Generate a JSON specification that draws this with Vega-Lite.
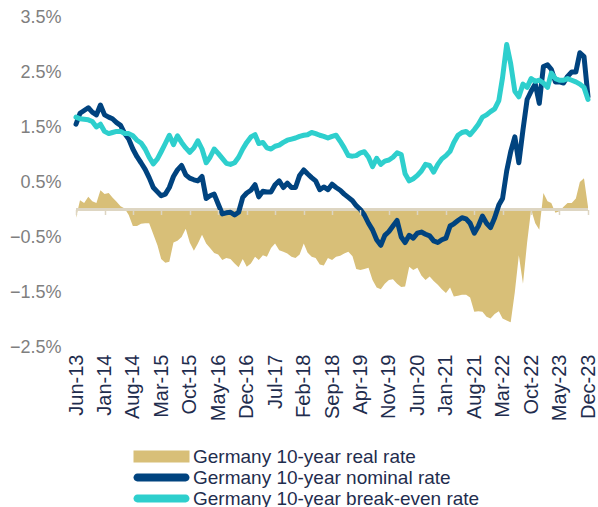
{
"$schema": "https://vega.github.io/schema/vega-lite/v6.json",
"width": 512, "height": 330,
"autosize": {"type": "none"},
"padding": {"left": 76, "top": 17, "right": 10, "bottom": 160},
"background": "white",
"config": {"view": {"stroke": null}, "font": "Liberation Sans",
"legend": {"labelFont": "Liberation Sans", "labelFontSize": 19, "labelColor": "#1F2D4E", "labelLimit": 400,
"symbolType": {"expr": "datum.value === 'Germany 10-year real rate' ? 'M-9.4,-1.2H1.8V1.2H-9.4Z' : 'M-8.62,-0.78H1.02A0.78,0.78 0 0 1 1.02,0.78H-8.62A0.78,0.78 0 0 1 -8.62,-0.78Z'"},
"symbolStrokeWidth": 0, "symbolOpacity": 1}},
"data": {"values": [
{"d":"2013-06-15","r":-0.15,"n":1.55,"b":1.68},
{"d":"2013-07-15","r":0.17,"n":1.75,"b":1.65},
{"d":"2013-08-15","r":0.12,"n":1.80,"b":1.64},
{"d":"2013-09-15","r":0.23,"n":1.85,"b":1.63},
{"d":"2013-10-15","r":0.15,"n":1.77,"b":1.60},
{"d":"2013-11-15","r":0.12,"n":1.72,"b":1.50},
{"d":"2013-12-15","r":0.35,"n":1.90,"b":1.55},
{"d":"2014-01-15","r":0.28,"n":1.72,"b":1.42},
{"d":"2014-02-15","r":0.30,"n":1.68,"b":1.38},
{"d":"2014-03-15","r":0.22,"n":1.65,"b":1.40},
{"d":"2014-04-15","r":0.14,"n":1.58,"b":1.42},
{"d":"2014-05-15","r":0.06,"n":1.53,"b":1.42},
{"d":"2014-06-15","r":0.02,"n":1.38,"b":1.38},
{"d":"2014-07-15","r":-0.10,"n":1.28,"b":1.38},
{"d":"2014-08-15","r":-0.30,"n":1.10,"b":1.34},
{"d":"2014-09-15","r":-0.30,"n":0.96,"b":1.26},
{"d":"2014-10-15","r":-0.26,"n":0.85,"b":1.21},
{"d":"2014-11-15","r":-0.25,"n":0.73,"b":1.10},
{"d":"2014-12-15","r":-0.25,"n":0.58,"b":0.95},
{"d":"2015-01-15","r":-0.45,"n":0.40,"b":0.83},
{"d":"2015-02-15","r":-0.65,"n":0.32,"b":0.92},
{"d":"2015-03-15","r":-0.90,"n":0.25,"b":1.05},
{"d":"2015-04-15","r":-0.97,"n":0.28,"b":1.20},
{"d":"2015-05-15","r":-0.95,"n":0.40,"b":1.35},
{"d":"2015-06-15","r":-0.60,"n":0.60,"b":1.18},
{"d":"2015-07-15","r":-0.57,"n":0.72,"b":1.34},
{"d":"2015-08-15","r":-0.50,"n":0.80,"b":1.22},
{"d":"2015-09-15","r":-0.35,"n":0.63,"b":1.12},
{"d":"2015-10-15","r":-0.60,"n":0.57,"b":1.04},
{"d":"2015-11-15","r":-0.75,"n":0.54,"b":1.12},
{"d":"2015-12-15","r":-0.62,"n":0.52,"b":1.25},
{"d":"2016-01-15","r":-0.46,"n":0.60,"b":1.10},
{"d":"2016-02-15","r":-0.62,"n":0.20,"b":0.85},
{"d":"2016-03-15","r":-0.70,"n":0.25,"b":0.95},
{"d":"2016-04-15","r":-0.79,"n":0.28,"b":1.10},
{"d":"2016-05-15","r":-0.82,"n":0.10,"b":1.02},
{"d":"2016-06-15","r":-0.92,"n":-0.08,"b":0.93},
{"d":"2016-07-15","r":-0.88,"n":-0.06,"b":0.84},
{"d":"2016-08-15","r":-0.90,"n":-0.05,"b":0.82},
{"d":"2016-09-15","r":-0.98,"n":-0.10,"b":0.85},
{"d":"2016-10-15","r":-1.05,"n":-0.05,"b":0.95},
{"d":"2016-11-15","r":-0.90,"n":0.22,"b":1.10},
{"d":"2016-12-15","r":-1.04,"n":0.30,"b":1.22},
{"d":"2017-01-15","r":-0.98,"n":0.35,"b":1.32},
{"d":"2017-02-15","r":-0.86,"n":0.45,"b":1.36},
{"d":"2017-03-15","r":-0.92,"n":0.23,"b":1.20},
{"d":"2017-04-15","r":-0.83,"n":0.33,"b":1.22},
{"d":"2017-05-15","r":-0.86,"n":0.32,"b":1.12},
{"d":"2017-06-15","r":-0.70,"n":0.32,"b":1.10},
{"d":"2017-07-15","r":-0.62,"n":0.45,"b":1.15},
{"d":"2017-08-15","r":-0.74,"n":0.52,"b":1.17},
{"d":"2017-09-15","r":-0.77,"n":0.40,"b":1.22},
{"d":"2017-10-15","r":-0.80,"n":0.48,"b":1.26},
{"d":"2017-11-15","r":-0.86,"n":0.40,"b":1.28},
{"d":"2017-12-15","r":-0.88,"n":0.40,"b":1.30},
{"d":"2018-01-15","r":-0.82,"n":0.62,"b":1.33},
{"d":"2018-02-15","r":-0.62,"n":0.72,"b":1.35},
{"d":"2018-03-15","r":-0.78,"n":0.65,"b":1.36},
{"d":"2018-04-15","r":-0.86,"n":0.58,"b":1.40},
{"d":"2018-05-15","r":-0.88,"n":0.52,"b":1.38},
{"d":"2018-06-15","r":-1.00,"n":0.36,"b":1.35},
{"d":"2018-07-15","r":-1.02,"n":0.41,"b":1.33},
{"d":"2018-08-15","r":-0.88,"n":0.36,"b":1.30},
{"d":"2018-09-15","r":-0.92,"n":0.46,"b":1.33},
{"d":"2018-10-15","r":-0.86,"n":0.40,"b":1.35},
{"d":"2018-11-15","r":-0.84,"n":0.35,"b":1.24},
{"d":"2018-12-15","r":-0.80,"n":0.28,"b":1.12},
{"d":"2019-01-15","r":-0.77,"n":0.22,"b":0.98},
{"d":"2019-02-15","r":-0.85,"n":0.16,"b":0.97},
{"d":"2019-03-15","r":-1.08,"n":0.07,"b":0.98},
{"d":"2019-04-15","r":-1.10,"n":0.00,"b":1.03},
{"d":"2019-05-15","r":-1.08,"n":-0.10,"b":1.05},
{"d":"2019-06-15","r":-1.06,"n":-0.25,"b":0.95},
{"d":"2019-07-15","r":-1.28,"n":-0.37,"b":0.78},
{"d":"2019-08-15","r":-1.42,"n":-0.55,"b":0.93},
{"d":"2019-09-15","r":-1.45,"n":-0.65,"b":0.82},
{"d":"2019-10-15","r":-1.35,"n":-0.47,"b":0.88},
{"d":"2019-11-15","r":-1.28,"n":-0.40,"b":0.90},
{"d":"2019-12-15","r":-1.27,"n":-0.30,"b":0.95},
{"d":"2020-01-15","r":-1.35,"n":-0.20,"b":1.03},
{"d":"2020-02-15","r":-1.41,"n":-0.50,"b":1.00},
{"d":"2020-03-15","r":-1.40,"n":-0.60,"b":0.65},
{"d":"2020-04-15","r":-1.04,"n":-0.47,"b":0.52},
{"d":"2020-05-15","r":-1.10,"n":-0.52,"b":0.56},
{"d":"2020-06-15","r":-1.06,"n":-0.43,"b":0.62},
{"d":"2020-07-15","r":-1.20,"n":-0.41,"b":0.70},
{"d":"2020-08-15","r":-1.28,"n":-0.45,"b":0.82},
{"d":"2020-09-15","r":-1.22,"n":-0.48,"b":0.80},
{"d":"2020-10-15","r":-1.30,"n":-0.57,"b":0.68},
{"d":"2020-11-15","r":-1.37,"n":-0.60,"b":0.82},
{"d":"2020-12-15","r":-1.45,"n":-0.55,"b":0.92},
{"d":"2021-01-15","r":-1.52,"n":-0.52,"b":0.98},
{"d":"2021-02-15","r":-1.42,"n":-0.30,"b":1.06},
{"d":"2021-03-15","r":-1.58,"n":-0.26,"b":1.22},
{"d":"2021-04-15","r":-1.57,"n":-0.20,"b":1.35},
{"d":"2021-05-15","r":-1.55,"n":-0.15,"b":1.40},
{"d":"2021-06-15","r":-1.55,"n":-0.17,"b":1.42},
{"d":"2021-07-15","r":-1.60,"n":-0.25,"b":1.36},
{"d":"2021-08-15","r":-1.86,"n":-0.43,"b":1.45},
{"d":"2021-09-15","r":-1.85,"n":-0.30,"b":1.55},
{"d":"2021-10-15","r":-1.86,"n":-0.12,"b":1.68},
{"d":"2021-11-15","r":-1.95,"n":-0.25,"b":1.72},
{"d":"2021-12-15","r":-1.98,"n":-0.33,"b":1.78},
{"d":"2022-01-15","r":-1.90,"n":-0.15,"b":1.83},
{"d":"2022-02-15","r":-1.85,"n":0.08,"b":1.98},
{"d":"2022-03-15","r":-1.98,"n":0.20,"b":2.40},
{"d":"2022-04-15","r":-2.02,"n":0.70,"b":3.00},
{"d":"2022-05-15","r":-2.05,"n":1.05,"b":2.65},
{"d":"2022-06-15","r":-1.50,"n":1.32,"b":2.15},
{"d":"2022-07-15","r":-0.83,"n":0.85,"b":2.05},
{"d":"2022-08-15","r":-1.35,"n":1.45,"b":2.28},
{"d":"2022-09-15","r":-0.60,"n":2.00,"b":2.22},
{"d":"2022-10-15","r":0.00,"n":2.15,"b":2.38},
{"d":"2022-11-15","r":-0.25,"n":2.28,"b":2.33},
{"d":"2022-12-15","r":-0.37,"n":1.93,"b":2.35},
{"d":"2023-01-15","r":0.30,"n":2.60,"b":2.30},
{"d":"2023-02-15","r":0.15,"n":2.63,"b":2.22},
{"d":"2023-03-15","r":0.12,"n":2.55,"b":2.48},
{"d":"2023-04-15","r":-0.06,"n":2.32,"b":2.38},
{"d":"2023-05-15","r":-0.03,"n":2.32,"b":2.35},
{"d":"2023-06-15","r":0.05,"n":2.30,"b":2.35},
{"d":"2023-07-15","r":0.12,"n":2.42,"b":2.38},
{"d":"2023-08-15","r":0.12,"n":2.50,"b":2.35},
{"d":"2023-09-15","r":0.20,"n":2.50,"b":2.32},
{"d":"2023-10-15","r":0.50,"n":2.85,"b":2.28},
{"d":"2023-11-15","r":0.57,"n":2.78,"b":2.22},
{"d":"2023-12-15","r":0.05,"n":2.05,"b":2.00}
]},
"layer": [
{
"mark": {"type": "area", "opacity": 1},
"encoding": {
"x": {"field": "d", "type": "temporal", "title": null, "scale": {"nice": false},
"axis": {"orient": "bottom", "format": "%b-%y", "labelAngle": -90, "labelFontSize": 20, "labelColor": "#1F2D4E", "labelPadding": 7, "domain": false, "ticks": false, "grid": false, "labelFlush": false, "labelOverlap": false, "labelBound": false,
"values": [
{"year":2013,"month":6,"date":15,"utc":true},{"year":2014,"month":1,"date":15,"utc":true},{"year":2014,"month":8,"date":15,"utc":true},{"year":2015,"month":3,"date":15,"utc":true},{"year":2015,"month":10,"date":15,"utc":true},{"year":2016,"month":5,"date":15,"utc":true},{"year":2016,"month":12,"date":15,"utc":true},{"year":2017,"month":7,"date":15,"utc":true},{"year":2018,"month":2,"date":15,"utc":true},{"year":2018,"month":9,"date":15,"utc":true},{"year":2019,"month":4,"date":15,"utc":true},{"year":2019,"month":11,"date":15,"utc":true},{"year":2020,"month":6,"date":15,"utc":true},{"year":2021,"month":1,"date":15,"utc":true},{"year":2021,"month":8,"date":15,"utc":true},{"year":2022,"month":3,"date":15,"utc":true},{"year":2022,"month":10,"date":15,"utc":true},{"year":2023,"month":5,"date":15,"utc":true},{"year":2023,"month":12,"date":15,"utc":true}
]}},
"y": {"field": "r", "type": "quantitative", "title": null, "scale": {"domain": [-2.5, 3.5], "nice": false, "zero": false},
"axis": {"values": [-2.5, -1.5, -0.5, 0.5, 1.5, 2.5, 3.5], "labelExpr": "format(datum.value, '.1f') + '%'", "labelFontSize": 18, "labelColor": "#7F7F7F", "labelPadding": 15, "domain": false, "ticks": false, "grid": false}},
"y2": {"datum": 0},
"color": {"datum": "Germany 10-year real rate", "type": "nominal",
"scale": {"domain": ["Germany 10-year real rate", "Germany 10-year nominal rate", "Germany 10-year break-even rate"], "range": ["#D8BF78", "#00437F", "#2ECFCD"]},
"legend": {"orient": "none", "legendX": 95, "legendY": 430, "direction": "vertical", "title": null, "padding": 0,
"labelOffset": 3, "symbolSize": 100, "rowPadding": 1}}
}
},
{
"mark": {"type": "rule", "color": "#DDD5C2", "strokeWidth": 2},
"encoding": {"y": {"datum": 0}}
},
{
"mark": {"type": "line", "strokeWidth": 5, "strokeJoin": "round", "strokeCap": "round"},
"encoding": {
"x": {"field": "d", "type": "temporal", "title": null,
"axis": {"orient": "bottom", "offset": -137.5, "labels": false, "domain": false, "ticks": true, "tickColor": "#DDD5C2", "tickSize": 5, "tickWidth": 1.5, "grid": false, "zindex": 1,
"values": [
{"year":2013,"month":6,"date":15,"utc":true},{"year":2014,"month":1,"date":15,"utc":true},{"year":2014,"month":8,"date":15,"utc":true},{"year":2015,"month":3,"date":15,"utc":true},{"year":2015,"month":10,"date":15,"utc":true},{"year":2016,"month":5,"date":15,"utc":true},{"year":2016,"month":12,"date":15,"utc":true},{"year":2017,"month":7,"date":15,"utc":true},{"year":2018,"month":2,"date":15,"utc":true},{"year":2018,"month":9,"date":15,"utc":true},{"year":2019,"month":4,"date":15,"utc":true},{"year":2019,"month":11,"date":15,"utc":true},{"year":2020,"month":6,"date":15,"utc":true},{"year":2021,"month":1,"date":15,"utc":true},{"year":2021,"month":8,"date":15,"utc":true},{"year":2022,"month":3,"date":15,"utc":true},{"year":2022,"month":10,"date":15,"utc":true},{"year":2023,"month":5,"date":15,"utc":true},{"year":2023,"month":12,"date":15,"utc":true}
]}},
"y": {"field": "n", "type": "quantitative", "title": null},
"color": {"datum": "Germany 10-year nominal rate", "type": "nominal"}
}
},
{
"mark": {"type": "line", "strokeWidth": 5, "strokeJoin": "round", "strokeCap": "round"},
"encoding": {
"x": {"field": "d", "type": "temporal", "title": null, "axis": null},
"y": {"field": "b", "type": "quantitative", "title": null},
"color": {"datum": "Germany 10-year break-even rate", "type": "nominal"}
}
}
],
"resolve": {"axis": {"x": "independent"}}
}
